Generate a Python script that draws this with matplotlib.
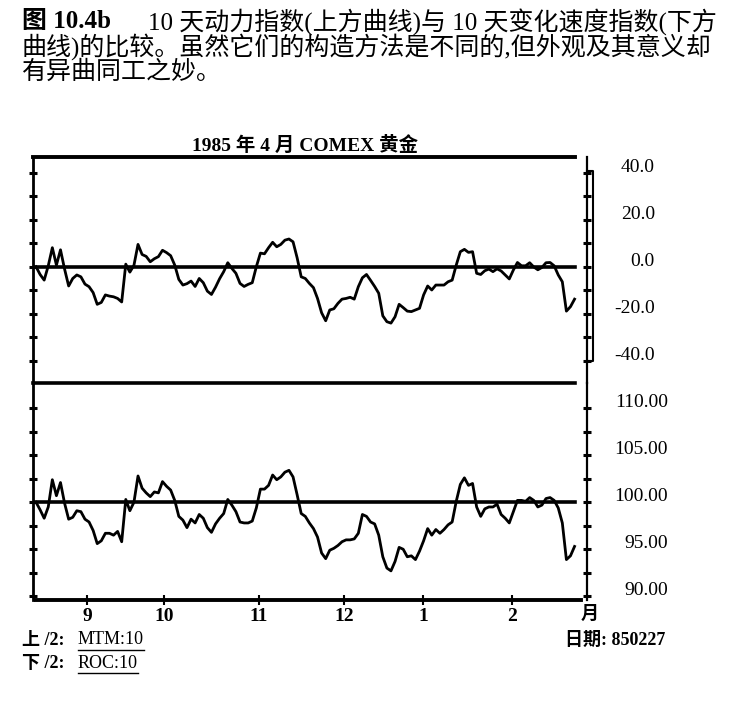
import matplotlib.pyplot as plt
import matplotlib.transforms as mtransforms
import numpy as np

plt.rcParams['font.family'] = ['Liberation Serif', 'Noto Sans CJK SC', 'DejaVu Sans']

# ------------------------------------------------------------
# data (one value per trading day)
# ------------------------------------------------------------
# upper curve: 10-day momentum MTM
mtm = [0.0, -3.3, -5.7, 0.4, 8.1, 0.7, 7.2, -1.0, -8.2, -5.0,
       -3.5, -4.3, -7.4, -8.5, -11.0, -16.0, -15.2, -12.0, -12.5, -12.8,
       -13.5, -15.0, 1.1, -2.3, 0.6, 9.5, 5.2, 4.4, 2.1, 3.4,
       4.3, 7.0, 6.0, 4.7, 0.7, -5.4, -7.8, -7.2, -6.1, -8.4,
       -5.0, -6.8, -10.4, -11.8, -8.7, -5.1, -2.1, 1.7, -0.7, -2.8,
       -7.1, -8.4, -7.5, -6.8, 0.0, 5.8, 5.5, 8.1, 10.4, 8.5,
       9.5, 11.3, 11.8, 10.6, 3.8, -4.3, -5.0, -7.1, -8.9, -13.5,
       -19.6, -23.0, -18.4, -17.9, -15.6, -13.8, -13.5, -13.0, -13.8, -8.5,
       -4.7, -3.3, -5.8, -8.4, -11.3, -20.9, -23.4, -24.0, -21.3, -16.0,
       -17.4, -18.9, -19.1, -18.4, -17.7, -12.0, -8.2, -9.9, -7.8, -7.8,
       -7.8, -6.4, -5.7, 0.7, 6.4, 7.4, 6.1, 6.4, -2.8, -3.3,
       -1.7, -1.0, -2.1, -0.9, -1.8, -3.5, -5.2, -1.4, 1.8, 0.4,
       0.4, 1.7, -0.1, -1.3, -0.3, 1.7, 1.8, 0.4, -3.5, -6.4,
       -18.9, -17.0, -13.8]

# lower curve: 10-day rate of change ROC
roc = [100.0, 99.2, 98.3, 99.5, 102.4, 100.7, 102.1, 99.9, 98.2, 98.4,
       99.1, 99.0, 98.2, 97.9, 97.0, 95.6, 95.9, 96.7, 96.7, 96.5,
       96.9, 95.8, 100.3, 99.1, 100.0, 102.8, 101.5, 101.0, 100.6, 101.1,
       101.0, 102.2, 101.7, 101.3, 100.2, 98.5, 98.1, 97.3, 98.2, 97.8,
       98.7, 98.3, 97.3, 96.8, 97.7, 98.3, 98.8, 100.3, 99.7, 99.0,
       97.9, 97.8, 97.8, 98.0, 99.4, 101.4, 101.4, 101.8, 102.9, 102.4,
       102.7, 103.2, 103.4, 102.7, 100.8, 98.8, 98.5, 97.8, 97.2, 96.3,
       94.6, 94.0, 94.9, 95.1, 95.4, 95.8, 96.0, 96.0, 96.1, 96.7,
       98.7, 98.5, 97.9, 97.7, 96.5, 94.2, 93.0, 92.7, 93.7, 95.2,
       95.0, 94.2, 94.3, 93.9, 94.8, 95.9, 97.2, 96.5, 97.1, 96.7,
       97.1, 97.6, 97.9, 100.1, 101.9, 102.6, 101.8, 102.0, 99.5, 98.5,
       99.3, 99.5, 99.5, 99.8, 98.7, 98.3, 97.8, 99.0, 100.2, 100.2,
       100.1, 100.5, 100.2, 99.5, 99.7, 100.4, 100.5, 100.2, 99.4, 97.8,
       93.9, 94.3, 95.3]

month_labels = ['9', '10', '11', '12', '1', '2']
month_pos = [12.5, 31.4, 54.6, 75.5, 94.9, 116.7]   # trading-day index of month start

mtm_major = [40, 20, 0, -20, -40]
mtm_minor = [30, 10, -10, -30]
roc_major = [110, 105, 100, 95, 90]
roc_minor = [107.5, 102.5, 97.5, 92.5]

days = np.arange(len(mtm))

# ------------------------------------------------------------
W, H = 738, 710
fig = plt.figure(figsize=(W / 100, H / 100), dpi=100)


def fx(px):
    return px / W


def fy(py):
    return 1 - py / H


ax1 = fig.add_axes([fx(33), fy(383.5), fx(587) - fx(33), fy(157) - fy(383.5)])
ax2 = fig.add_axes([fx(33), fy(600), fx(587) - fx(33), fy(383.5) - fy(600)])
ax1.set_zorder(2)

line_end = (575 - 33) / (587 - 33)

for ax in (ax1, ax2):
    ax.patch.set_visible(False)
    ax.set_xlim(-0.74, 135.05)
    for s in ('top', 'bottom'):
        ax.spines[s].set_visible(False)
    ax.spines['left'].set_linewidth(2.0)
    ax.spines['right'].set_linewidth(1.6)
    ax.tick_params(axis='y', which='both', left=True, right=True,
                   direction='inout', length=6, width=2.2,
                   labelleft=False, labelright=False)

# upper panel
ax1.set_ylim(-49.7, 46.7)
ax1.set_yticks(mtm_major)
ax1.set_yticks(mtm_minor, minor=True)
ax1.set_xticks([])
ax1.plot(days, mtm, color='black', lw=2.0)
ax1.axhline(0, xmax=line_end, color='black', lw=2.6)
ax1.axhline(46.7, xmax=line_end, color='black', lw=2.8, clip_on=False)
ax1.axhline(-49.7, xmax=line_end, color='black', lw=2.6, clip_on=False)

# lower panel
ax2.set_ylim(89.6, 112.64)
ax2.set_yticks(roc_major)
ax2.set_yticks(roc_minor, minor=True)
ax2.plot(days, roc, color='black', lw=2.0)
ax2.axhline(100, xmax=line_end, color='black', lw=2.6)
ax2.axhline(89.6, xmin=0.005, xmax=0.989, color='black', lw=2.8, clip_on=False)
ax2.set_xticks(month_pos)
ax2.set_xticklabels(month_labels, fontsize=14, fontweight='bold')
ax2.tick_params(axis='x', direction='inout', length=7, width=1.5, pad=2)

# right-hand value labels (sit slightly above their ticks)
up = mtransforms.ScaledTranslation(0, 0.055, fig.dpi_scale_trans)
tr1 = mtransforms.blended_transform_factory(ax1.transAxes, ax1.transData) + up
for v in mtm_major:
    ax1.text(1.1227, v, f'{v:.1f}', transform=tr1, ha='right', va='center', fontsize=14)
tr2 = mtransforms.blended_transform_factory(ax2.transAxes, ax2.transData) + up
for v in roc_major:
    ax2.text(1.146, v, f'{v:.2f}', transform=tr2, ha='right', va='center', fontsize=14)

# bracket beside the right axis of the upper panel
trb = mtransforms.blended_transform_factory(ax1.transAxes, ax1.transData)
top, bot = max(mtm_major) + 0.8, min(mtm_major)
ax1.plot([1.0, 1.011, 1.011, 1.0], [top, top, bot, bot], transform=trb,
         color='black', lw=1.5, clip_on=False)

ax2.text(1.0054, -0.065, '月', transform=ax2.transAxes, ha='center', va='center',
         fontsize=13, fontweight='bold')

# titles
fig.text(fx(305), fy(145), '1985 年 4 月 COMEX 黄金', ha='center', va='center',
         fontsize=14, fontweight='bold')

fig.text(fx(22), fy(22), '图 10.4b', ha='left', va='center', fontsize=18, fontweight='bold')
fig.text(fx(148), fy(22), '10 天动力指数(上方曲线)与 10 天变化速度指数(下方',
         ha='left', va='center', fontsize=18)
fig.text(fx(22), fy(47), '曲线)的比较。虽然它们的构造方法是不同的,但外观及其意义却',
         ha='left', va='center', fontsize=18)
fig.text(fx(22), fy(72), '有异曲同工之妙。', ha='left', va='center', fontsize=18)

# footer
fig.text(fx(22), fy(640), '上 /2:', ha='left', va='center', fontsize=13, fontweight='bold')
fig.text(fx(22), fy(663), '下 /2:', ha='left', va='center', fontsize=13, fontweight='bold')
t1 = fig.text(fx(78), fy(640), 'MTM:10', ha='left', va='center', fontsize=13)
t2 = fig.text(fx(78), fy(663), 'ROC:10', ha='left', va='center', fontsize=13)
fig.text(fx(565), fy(640), '日期: 850227', ha='left', va='center', fontsize=13,
         fontweight='bold')

renderer = fig.canvas.get_renderer()
for t in (t1, t2):
    bb = t.get_window_extent(renderer)
    fig.add_artist(plt.Line2D([bb.x0 / W, bb.x1 / W], [(bb.y0 - 1) / H] * 2,
                              color='black', lw=1.0))

fig.savefig('out.png', dpi=100)
